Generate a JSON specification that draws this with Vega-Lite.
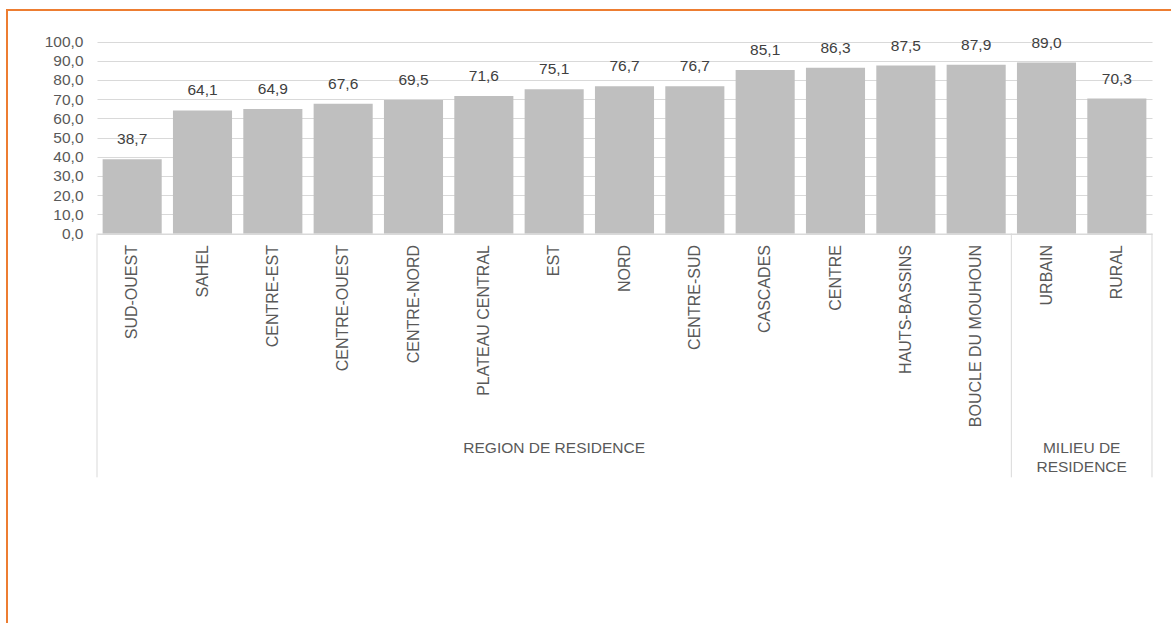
{
  "$schema": "https://vega.github.io/schema/vega-lite/v6.json",
  "width": 1170,
  "height": 619,
  "autosize": {"type": "none"},
  "padding": {"left": 7, "top": 10, "right": -6, "bottom": -6},
  "background": "white",
  "config": {
    "view": {"stroke": "#ED7D31", "strokeWidth": 2},
    "locale": {"number": {"decimal": ",", "thousands": " ", "grouping": [3], "currency": ["", ""]}},
    "font": "Liberation Sans",
    "axis": {"labelFont": "Liberation Sans", "labelColor": "#595959", "labelFontSize": 15.5, "domainColor": "#D9D9D9", "gridColor": "#D9D9D9", "title": null}
  },
  "datasets": {
    "bars": [
      {"cat": "SUD-OUEST", "value": 38.7},
      {"cat": "SAHEL", "value": 64.1},
      {"cat": "CENTRE-EST", "value": 64.9},
      {"cat": "CENTRE-OUEST", "value": 67.6},
      {"cat": "CENTRE-NORD", "value": 69.5},
      {"cat": "PLATEAU CENTRAL", "value": 71.6},
      {"cat": "EST", "value": 75.1},
      {"cat": "NORD", "value": 76.7},
      {"cat": "CENTRE-SUD", "value": 76.7},
      {"cat": "CASCADES", "value": 85.1},
      {"cat": "CENTRE", "value": 86.3},
      {"cat": "HAUTS-BASSINS", "value": 87.5},
      {"cat": "BOUCLE DU MOUHOUN", "value": 87.9},
      {"cat": "URBAIN", "value": 89.0},
      {"cat": "RURAL", "value": 70.3}
    ],
    "sepStart": [{"cat": "SUD-OUEST"}, {"cat": "URBAIN"}],
    "sepEnd": [{"cat": "RURAL"}],
    "groupRegion": [{"cat": "EST", "label": "REGION DE RESIDENCE"}],
    "groupMilieu": [{"cat": "URBAIN", "label": "MILIEU DE\nRESIDENCE"}]
  },
  "layer": [
    {
      "data": {"name": "bars"},
      "mark": {"type": "bar", "color": "#BFBFBF"},
      "encoding": {
        "x": {
          "field": "cat", "type": "nominal", "sort": null,
          "scale": {
            "domain": ["SUD-OUEST", "SAHEL", "CENTRE-EST", "CENTRE-OUEST", "CENTRE-NORD", "PLATEAU CENTRAL", "EST", "NORD", "CENTRE-SUD", "CASCADES", "CENTRE", "HAUTS-BASSINS", "BOUCLE DU MOUHOUN", "URBAIN", "RURAL"],
            "range": [90, 1145], "paddingInner": 0.16, "paddingOuter": 0.08
          },
          "axis": {"orient": "bottom", "offset": -395.5, "labelAngle": 270, "labelAlign": "right", "labelBaseline": "middle", "labelPadding": 11, "labelFontSize": 16, "ticks": false, "tickSize": 0, "grid": false, "labelOverlap": false, "labelLimit": 0, "domainColor": "#D9D9D9"}
        },
        "y": {
          "field": "value", "type": "quantitative",
          "scale": {"domain": [0, 100], "range": [223.5, 31.5], "nice": false},
          "axis": {"orient": "left", "offset": -90, "values": [0, 10, 20, 30, 40, 50, 60, 70, 80, 90, 100], "format": ".1f", "domain": false, "ticks": false, "tickSize": 0, "labelPadding": 14, "grid": true, "gridColor": "#D9D9D9"}
        }
      }
    },
    {
      "data": {"name": "bars"},
      "mark": {"type": "text", "baseline": "alphabetic", "dy": -15, "fontSize": 15.5, "color": "#404040", "font": "Liberation Sans"},
      "encoding": {
        "x": {"field": "cat", "type": "nominal", "sort": null},
        "y": {"field": "value", "type": "quantitative"},
        "text": {"field": "value", "type": "quantitative", "format": ".1f"}
      }
    },
    {
      "data": {"name": "sepStart"},
      "mark": {"type": "rule", "color": "#D9D9D9", "strokeWidth": 1},
      "encoding": {
        "x": {"field": "cat", "type": "nominal", "sort": null, "bandPosition": -0.0952},
        "y": {"datum": 0, "type": "quantitative"},
        "y2": {"datum": -127}
      }
    },
    {
      "data": {"name": "sepEnd"},
      "mark": {"type": "rule", "color": "#D9D9D9", "strokeWidth": 1},
      "encoding": {
        "x": {"field": "cat", "type": "nominal", "sort": null, "bandPosition": 1.0952},
        "y": {"datum": 0, "type": "quantitative"},
        "y2": {"datum": -127}
      }
    },
    {
      "data": {"name": "groupRegion"},
      "mark": {"type": "text", "baseline": "middle", "align": "center", "fontSize": 15.5, "color": "#595959", "font": "Liberation Sans"},
      "encoding": {
        "x": {"field": "cat", "type": "nominal", "sort": null, "bandPosition": 0.5},
        "y": {"datum": -111.7, "type": "quantitative"},
        "text": {"field": "label"}
      }
    },
    {
      "data": {"name": "groupMilieu"},
      "mark": {"type": "text", "baseline": "middle", "align": "center", "fontSize": 15.5, "color": "#595959", "font": "Liberation Sans", "lineBreak": "\n", "lineHeight": 19},
      "encoding": {
        "x": {"field": "cat", "type": "nominal", "sort": null, "bandPosition": 1.0952},
        "y": {"datum": -111.7, "type": "quantitative"},
        "text": {"field": "label"}
      }
    }
  ]
}
